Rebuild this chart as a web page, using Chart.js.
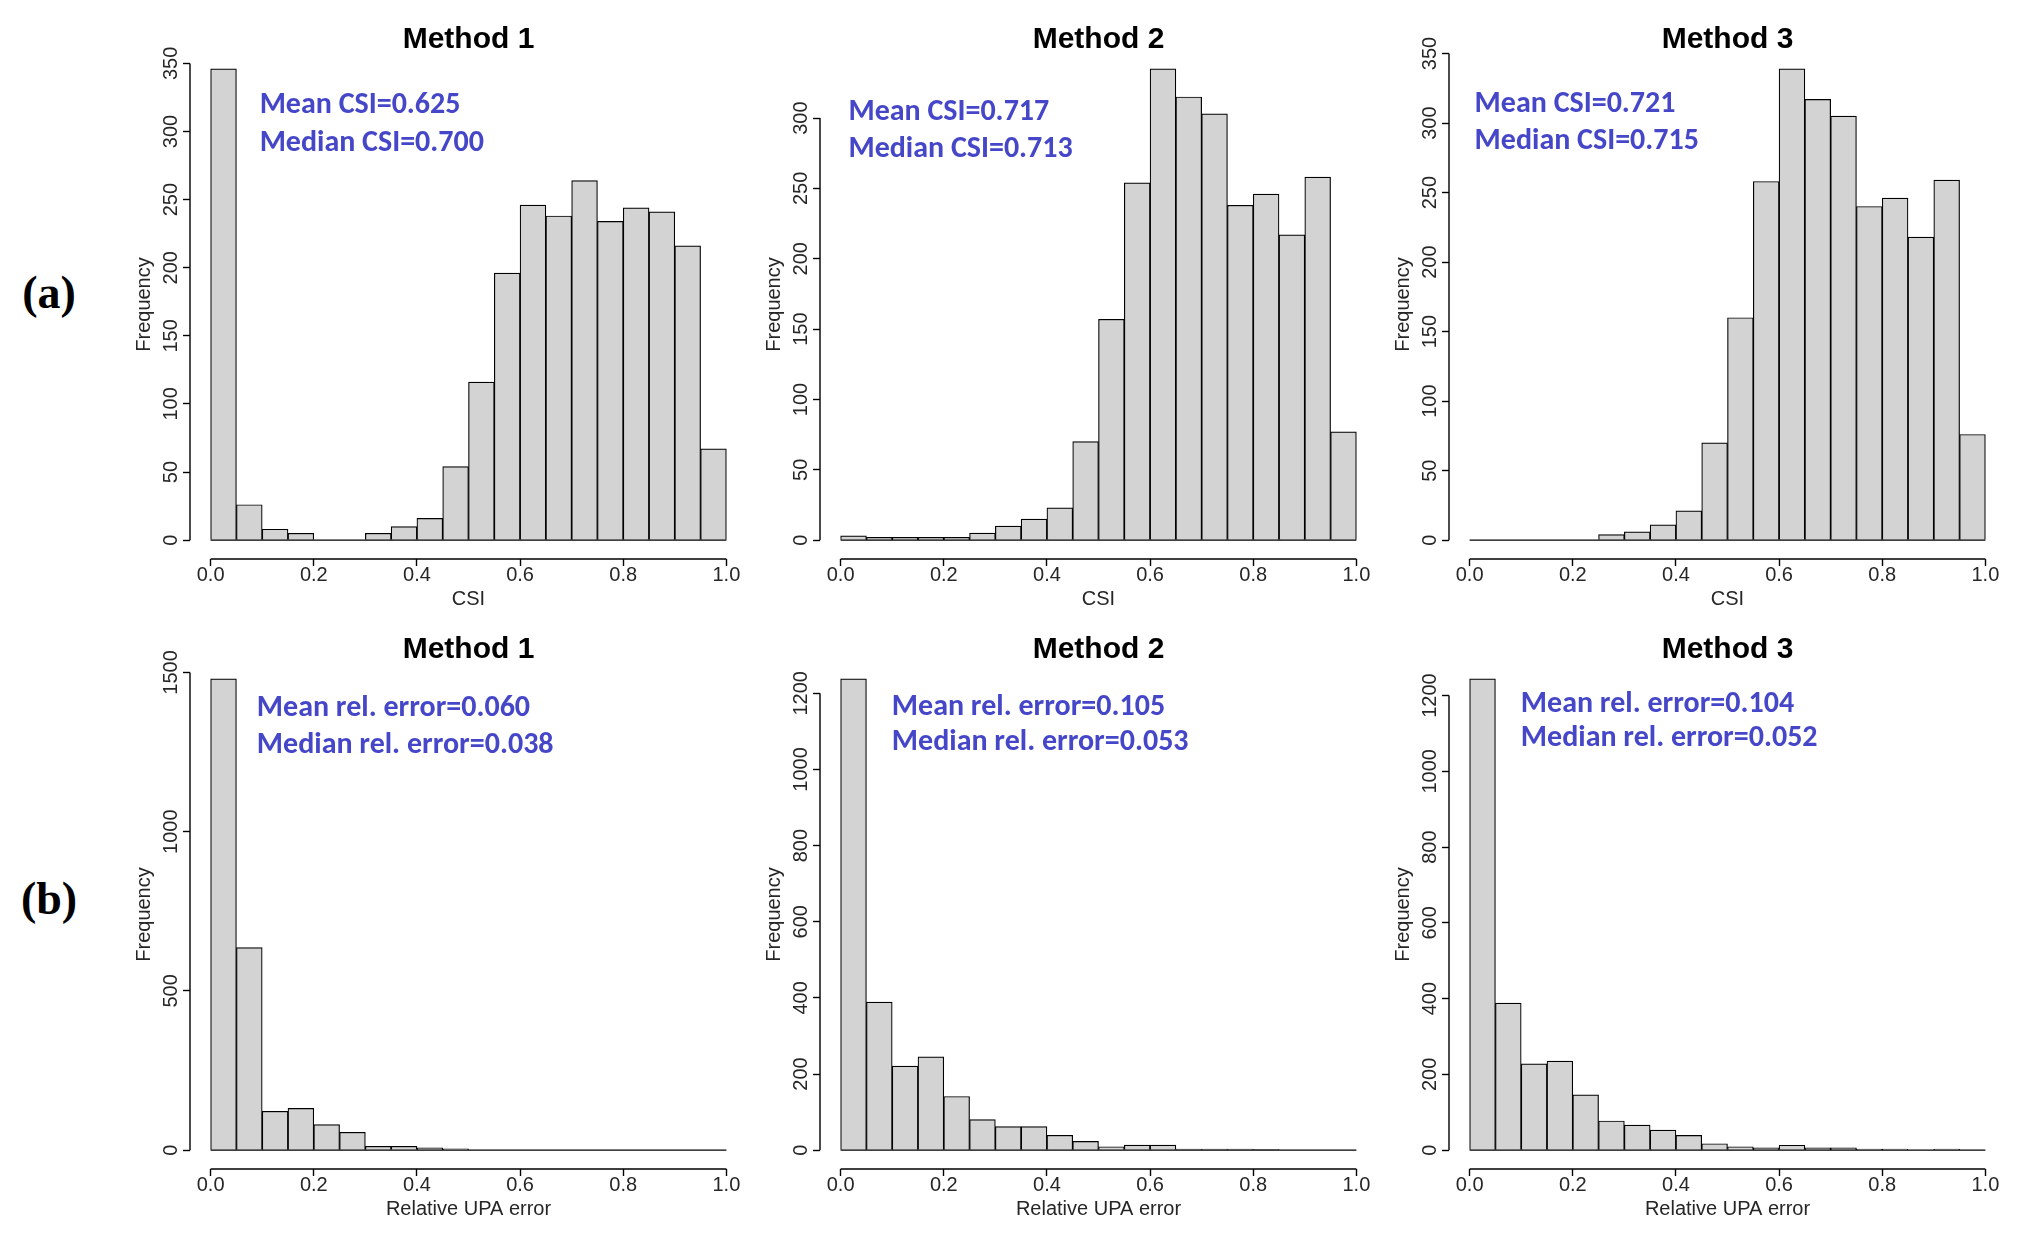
<!DOCTYPE html>
<html>
<head>
<meta charset="utf-8">
<script src="https://cdn.jsdelivr.net/npm/chart.js@4.4.1/dist/chart.umd.min.js"></script>
<style>
  html, body { margin: 0; padding: 0; background: #fff; width: 2020px; height: 1238px; overflow: hidden; }
  .panel { position: absolute; width: 667px; height: 607px; }
  .tag { position: absolute; font-family: "Liberation Serif", "Times New Roman", serif; font-weight: bold;
         font-size: 46px; color: #000; transform: translate(-50%, -50%); }
</style>
</head>
<body>
<div class="tag" style="left:49px; top:292px">(a)</div>
<div class="tag" style="left:49px; top:898px">(b)</div>

<div class="panel" style="left:90px; top:12px"><canvas id="a1"></canvas></div>
<div class="panel" style="left:720px; top:12px"><canvas id="a2"></canvas></div>
<div class="panel" style="left:1349px; top:12px"><canvas id="a3"></canvas></div>
<div class="panel" style="left:90px; top:622px"><canvas id="b1"></canvas></div>
<div class="panel" style="left:720px; top:622px"><canvas id="b2"></canvas></div>
<div class="panel" style="left:1349px; top:622px"><canvas id="b3"></canvas></div>

<script>
// histogram bins (width 0.05), given by their mid points
const binMids = [0.025, 0.075, 0.125, 0.175, 0.225, 0.275, 0.325, 0.375, 0.425, 0.475,
                 0.525, 0.575, 0.625, 0.675, 0.725, 0.775, 0.825, 0.875, 0.925, 0.975];

// counts
const csiMethod1 = [346, 26, 8, 5, 0, 0, 5, 10, 16, 54, 116, 196, 246, 238, 264, 234, 244, 241, 216, 67];
const csiMethod2 = [3, 2, 2, 2, 2, 5, 10, 15, 23, 70, 157, 254, 335, 315, 303, 238, 246, 217, 258, 77];
const csiMethod3 = [0, 0, 0, 0, 0, 4, 6, 11, 21, 70, 160, 258, 339, 317, 305, 240, 246, 218, 259, 76];
const upaMethod1 = [1480, 636, 122, 131, 80, 56, 12, 12, 7, 4, 0, 0, 0, 0, 0, 0, 0, 0, 0, 0];
const upaMethod2 = [1238, 389, 221, 245, 141, 80, 62, 62, 39, 23, 9, 13, 13, 3, 3, 3, 2, 0, 0, 0];
const upaMethod3 = [1244, 388, 228, 235, 146, 77, 66, 53, 39, 17, 9, 6, 13, 6, 6, 3, 3, 0, 3, 0];

// axis ticks
const xTickValues = [0, 0.2, 0.4, 0.6, 0.8, 1];
const xTickLabels = ["0.0", "0.2", "0.4", "0.6", "0.8", "1.0"];
const csiTicks350 = [0, 50, 100, 150, 200, 250, 300, 350];
const csiTicks300 = [0, 50, 100, 150, 200, 250, 300];
const upaTicks1500 = [0, 500, 1000, 1500];
const upaTicks1200 = [0, 200, 400, 600, 800, 1000, 1200];

// texts
const panelTitles = ["Method 1", "Method 2", "Method 3"];
const csiStats = [
    ["Mean CSI=0.625", "Median CSI=0.700"],
    ["Mean CSI=0.717", "Median CSI=0.713"],
    ["Mean CSI=0.721", "Median CSI=0.715"]
];
const upaStats = [
    ["Mean rel. error=0.060", "Median rel. error=0.038"],
    ["Mean rel. error=0.105", "Median rel. error=0.053"],
    ["Mean rel. error=0.104", "Median rel. error=0.052"]
];

const AXIS_W = 100;   // room for the y axis
const XAXIS_H = 60;   // room for the x axis
const INK = "#262626";

Chart.defaults.font.family = '"Liberation Sans", Arial, sans-serif';

// R style decorations: axis lines only between first and last tick, rotated y labels, stats text
const histDecor = {
    id: "histDecor",
    afterDraw(chart) {
        const { ctx, chartArea: area, scales: { x, y } } = chart;
        const opts = chart.options.plugins.histDecor;
        ctx.save();
        ctx.strokeStyle = "#000";
        ctx.lineWidth = 1.4;

        // bottom edge of every bin (also empty ones)
        ctx.beginPath();
        ctx.moveTo(x.getPixelForValue(0), y.getPixelForValue(0));
        ctx.lineTo(x.getPixelForValue(1), y.getPixelForValue(0));
        ctx.stroke();

        const xt = x.ticks, yt = y.ticks;
        ctx.beginPath();
        ctx.moveTo(x.getPixelForValue(xt[0].value), area.bottom);
        ctx.lineTo(x.getPixelForValue(xt[xt.length - 1].value), area.bottom);
        ctx.moveTo(area.left, y.getPixelForValue(yt[0].value));
        ctx.lineTo(area.left, y.getPixelForValue(yt[yt.length - 1].value));
        ctx.stroke();

        // y tick labels, turned like in R
        ctx.fillStyle = INK;
        ctx.font = '20px "Liberation Sans", Arial, sans-serif';
        ctx.textAlign = "center";
        ctx.textBaseline = "middle";
        yt.forEach(t => {
            ctx.save();
            ctx.translate(area.left - 19, y.getPixelForValue(t.value));
            ctx.rotate(-Math.PI / 2);
            ctx.fillText(String(t.value), 0, 0);
            ctx.restore();
        });

        // mean / median text
        ctx.fillStyle = "#4547C8";
        ctx.font = 'bold 30px Calibri, Carlito, Lato, sans-serif';
        ctx.textAlign = "left";
        const w = area.right - area.left, h = area.bottom - area.top;
        opts.lines.forEach((txt, i) => {
            ctx.fillText(txt, area.left + opts.fx * w, area.top + opts.fy[i] * h);
        });
        ctx.restore();
    }
};

function makeHist(id, counts, yTicks, title, xTitle, stats, fx, fy) {
    const maxCount = Math.max(...counts);
    const axisFont = { size: 20, lineHeight: 1.2 };
    new Chart(document.getElementById(id), {
        type: "bar",
        data: {
            datasets: [{
                data: binMids.map((m, i) => ({ x: m, y: counts[i] })),
                backgroundColor: "#D3D3D3",
                borderColor: "#000",
                borderWidth: 1.2,
                borderSkipped: "start",
                barPercentage: 1,
                categoryPercentage: 1
            }]
        },
        options: {
            responsive: true,
            maintainAspectRatio: false,
            animation: false,
            layout: { padding: { left: 0, right: 10, top: 0, bottom: 0 } },
            plugins: {
                legend: { display: false },
                tooltip: { enabled: false },
                title: {
                    display: true,
                    text: title,
                    fullSize: false,
                    color: "#000",
                    font: { size: 30, weight: "bold", lineHeight: 1.2 },
                    padding: { top: 9.5, bottom: -7.5 }
                },
                histDecor: { lines: stats, fx: fx, fy: fy }
            },
            scales: {
                x: {
                    type: "linear",
                    offset: false,
                    min: -0.04,
                    max: 1.04,
                    afterBuildTicks: s => { s.ticks = xTickValues.map(v => ({ value: v })); },
                    afterFit: s => { s.height = XAXIS_H; },
                    grid: { offset: false, drawOnChartArea: false, drawTicks: true, tickLength: 7, tickWidth: 1.4, tickColor: "#000" },
                    border: { display: false },
                    ticks: {
                        color: INK,
                        font: axisFont,
                        padding: -3,
                        maxRotation: 0,
                        autoSkip: false,
                        callback: (v, i) => xTickLabels[i]
                    },
                    title: { display: true, text: xTitle, color: INK, font: axisFont, padding: { top: 0, bottom: 7.5 } }
                },
                y: {
                    min: -0.04 * maxCount,
                    max: 1.04 * maxCount,
                    afterBuildTicks: s => { s.ticks = yTicks.map(v => ({ value: v })); },
                    afterFit: s => { s.width = AXIS_W; },
                    grid: { drawOnChartArea: false, drawTicks: true, tickLength: 7, tickWidth: 1.4, tickColor: "#000" },
                    border: { display: false },
                    ticks: { display: false },
                    title: { display: true, text: "Frequency", color: INK, font: axisFont, padding: { top: 42, bottom: 0 } }
                }
            }
        },
        plugins: [histDecor]
    });
}

makeHist("a1", csiMethod1, csiTicks350, panelTitles[0], "CSI", csiStats[0], 0.125, [0.110, 0.183]);
makeHist("a2", csiMethod2, csiTicks300, panelTitles[1], "CSI", csiStats[1], 0.051, [0.122, 0.195]);
makeHist("a3", csiMethod3, csiTicks350, panelTitles[2], "CSI", csiStats[2], 0.046, [0.107, 0.180]);
makeHist("b1", upaMethod1, upaTicks1500, panelTitles[0], "Relative UPA error", upaStats[0], 0.120, [0.096, 0.167]);
makeHist("b2", upaMethod2, upaTicks1200, panelTitles[1], "Relative UPA error", upaStats[1], 0.129, [0.093, 0.162]);
makeHist("b3", upaMethod3, upaTicks1200, panelTitles[2], "Relative UPA error", upaStats[2], 0.129, [0.088, 0.154]);
</script>
</body>
</html>
